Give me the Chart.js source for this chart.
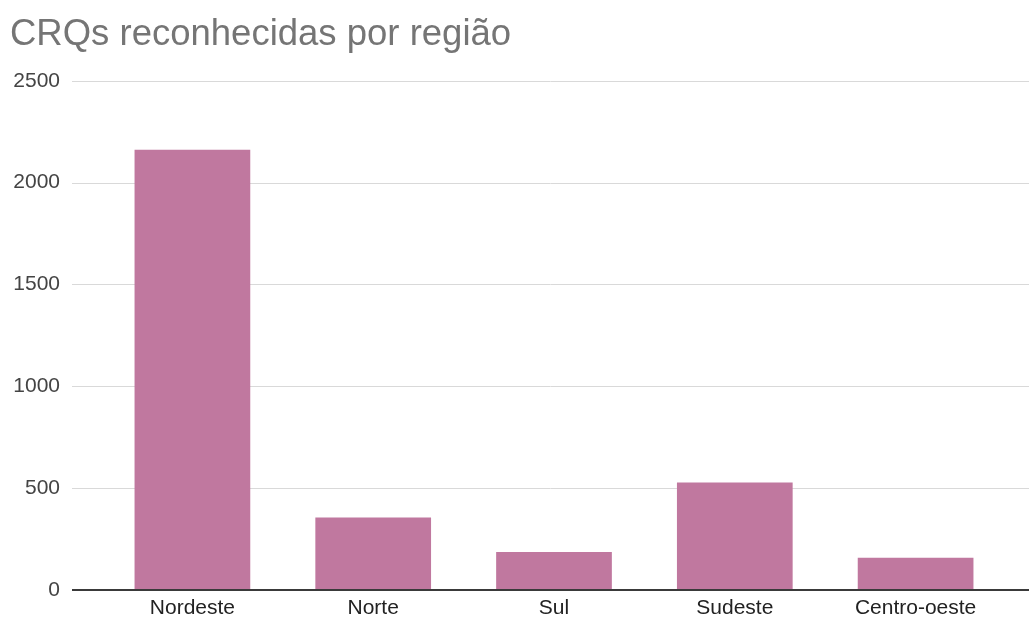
<!DOCTYPE html>
<html lang="pt-BR">
<head>
<meta charset="utf-8">
<title>CRQs reconhecidas por região</title>
<script src="https://cdn.jsdelivr.net/npm/chart.js@4/dist/chart.umd.min.js"></script>
<style>
  html, body { margin: 0; padding: 0; background: #fff; }
  #chart { display: block; }
</style>
</head>
<body>
<canvas id="chart" width="1029" height="621"></canvas>
<script>
const regioes = ['Nordeste', 'Norte', 'Sul', 'Sudeste', 'Centro-oeste'];
const crqs = [2162, 356, 187, 528, 158];
const yTicks = [0, 500, 1000, 1500, 2000, 2500];

const FONT = '"Liberation Sans", Arial, sans-serif';

// gridlines run past the plot area, out to the right edge of the canvas
const fullGrid = {
  id: 'fullGrid',
  beforeDatasetsDraw(chart) {
    const { ctx, scales: { y } } = chart;
    ctx.save();
    ctx.strokeStyle = '#d9d9d9';
    ctx.lineWidth = 1;
    y.ticks.forEach(t => {
      if (t.value === 0) return;
      const py = Math.round(y.getPixelForValue(t.value)) + 0.5;
      ctx.beginPath();
      ctx.moveTo(72, py);
      ctx.lineTo(chart.width, py);
      ctx.stroke();
    });
    ctx.restore();
  },
  afterDatasetsDraw(chart) {
    const { ctx, scales: { y } } = chart;
    const py = Math.round(y.getPixelForValue(0));
    ctx.save();
    ctx.strokeStyle = '#3a3a3a';
    ctx.lineWidth = 2;
    ctx.beginPath();
    ctx.moveTo(72, py);
    ctx.lineTo(chart.width, py);
    ctx.stroke();
    ctx.restore();
  }
};

new Chart(document.getElementById('chart'), {
  type: 'bar',
  data: {
    labels: regioes,
    datasets: [{
      label: 'CRQs',
      data: crqs,
      backgroundColor: '#c0789f',
      borderWidth: 0,
      barPercentage: 0.64,
      categoryPercentage: 1
    }]
  },
  options: {
    responsive: false,
    animation: false,
    layout: { padding: { left: 10, right: 23, top: 0, bottom: 0 } },
    plugins: {
      legend: { display: false },
      tooltip: { enabled: false },
      title: {
        display: true,
        text: 'CRQs reconhecidas por região',
        align: 'start',
        color: '#757575',
        font: { family: FONT, size: 36.5, weight: 'normal' },
        padding: { top: 13, bottom: 24 }
      }
    },
    scales: {
      x: {
        afterFit(scale) {
          scale.height = 31;
        },
        grid: { display: false, drawTicks: false },
        border: { display: false },
        ticks: {
          color: '#222',
          font: { family: FONT, size: 21 },
          padding: 6,
          maxRotation: 0
        }
      },
      y: {
        min: 0,
        max: 2500,
        afterBuildTicks(scale) {
          scale.ticks = yTicks.map(v => ({ value: v }));
        },
        afterFit(scale) {
          scale.width = 92;
          scale.paddingTop = 0;
          scale.paddingBottom = 0;
        },
        grid: { display: false, drawTicks: false },
        border: { display: false },
        ticks: {
          color: '#444',
          font: { family: FONT, size: 21 },
          padding: 42,
          callback: v => String(v)
        }
      }
    }
  },
  plugins: [fullGrid]
});
</script>
</body>
</html>
